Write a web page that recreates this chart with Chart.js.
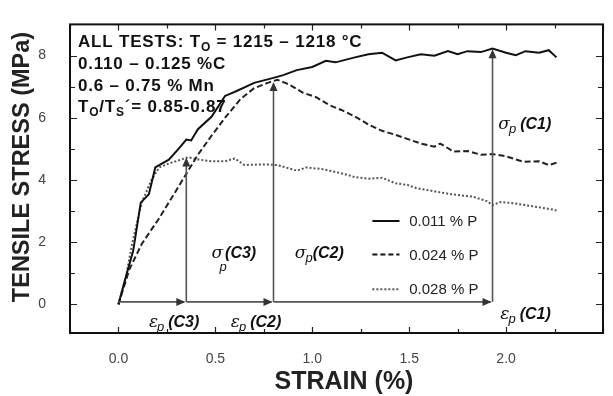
<!DOCTYPE html>
<html>
<head>
<meta charset="utf-8">
<script src="https://cdn.jsdelivr.net/npm/chart.js"></script>
<style>
  html, body { margin: 0; padding: 0; background: #fff; }
  #wrap { width: 613px; height: 396px; }
</style>
</head>
<body>
<div id="wrap"><canvas id="chart" width="613" height="396"></canvas></div>
<script>
// ====== DATA (strain %, stress MPa) ======
const seriesNames = ["0.011 % P", "0.024 % P", "0.028 % P"];

const p011Strain = [0, 0.03, 0.076, 0.115, 0.157, 0.19, 0.26, 0.31, 0.35, 0.375, 0.41, 0.48, 0.55, 0.61, 0.70, 0.80, 0.85, 0.92, 1.00, 1.07, 1.12, 1.22, 1.29, 1.36, 1.43, 1.49, 1.56, 1.63, 1.70, 1.75, 1.80, 1.87, 1.93, 2.00, 2.05, 2.10, 2.17, 2.22, 2.26];
const p011Stress = [0, 0.7, 1.72, 3.27, 3.54, 4.4, 4.65, 5.0, 5.3, 5.27, 5.63, 6.03, 6.7, 6.86, 7.12, 7.28, 7.37, 7.53, 7.63, 7.83, 7.78, 7.94, 8.04, 8.09, 7.84, 7.94, 8.04, 7.99, 8.14, 8.04, 8.14, 8.11, 8.22, 8.09, 8.01, 8.14, 8.09, 8.17, 7.94];

const p024Strain = [0, 0.056, 0.12, 0.21, 0.29, 0.36, 0.41, 0.48, 0.55, 0.63, 0.70, 0.77, 0.82, 0.86, 0.88, 0.95, 1.02, 1.09, 1.15, 1.22, 1.29, 1.36, 1.43, 1.49, 1.56, 1.63, 1.66, 1.73, 1.80, 1.87, 1.93, 2.00, 2.09, 2.17, 2.22, 2.26];
const p024Stress = [0, 1.12, 1.94, 2.77, 3.58, 4.3, 4.81, 5.42, 6.0, 6.6, 6.95, 7.12, 7.22, 7.12, 7.07, 6.81, 6.66, 6.4, 6.25, 6.04, 5.78, 5.58, 5.45, 5.32, 5.17, 5.07, 5.17, 4.91, 4.93, 4.81, 4.83, 4.76, 4.58, 4.6, 4.48, 4.55];

const p028Strain = [0, 0.04, 0.07, 0.12, 0.17, 0.21, 0.27, 0.36, 0.41, 0.48, 0.55, 0.60, 0.65, 0.75, 0.82, 0.92, 0.97, 1.05, 1.16, 1.22, 1.29, 1.36, 1.43, 1.49, 1.54, 1.59, 1.66, 1.73, 1.83, 1.90, 1.93, 1.97, 2.04, 2.10, 2.17, 2.24, 2.26];
const p028Stress = [0, 0.92, 1.94, 3.27, 4.0, 4.4, 4.55, 4.73, 4.66, 4.6, 4.6, 4.69, 4.48, 4.5, 4.48, 4.3, 4.4, 4.35, 4.2, 4.09, 4.04, 4.07, 3.89, 3.84, 3.73, 3.68, 3.6, 3.53, 3.46, 3.32, 3.19, 3.29, 3.25, 3.19, 3.12, 3.05, 3.02];

// tick labels
const strainLabels = [0.0, 0.5, 1.0, 1.5, 2.0];
const stressLabels = [0, 2, 4, 6, 8];

// peak markers (strain at peak, peak stress) for C3, C2, C1
const peakNames = ["C3", "C2", "C1"];
const peakStrain = [0.35, 0.80, 1.93];
const peakStress = [4.72, 7.15, 8.2];

// ====== BUILD POINTS ======
function zip(xs, ys) {
  return xs.map((x, i) => ({ x: x, y: ys[i] }));
}

const FONT = "'Liberation Sans', Arial, sans-serif";

// draw a list of text runs one after another (for subscripts)
function drawRuns(ctx, x, y, runs) {
  let cx = x;
  runs.forEach((r) => {
    ctx.font = r.font;
    ctx.fillText(r.t, cx, y + (r.dy || 0));
    cx += ctx.measureText(r.t).width + (r.dx || 0);
  });
}

function arrowHead(ctx, x, y, dir) {
  // dir: 'up' or 'right'
  const L = 9, W = 4;
  ctx.beginPath();
  if (dir === "up") {
    ctx.moveTo(x, y);
    ctx.lineTo(x - W, y + L);
    ctx.lineTo(x + W, y + L);
  } else {
    ctx.moveTo(x, y);
    ctx.lineTo(x - L, y - W);
    ctx.lineTo(x - L, y + W);
  }
  ctx.closePath();
  ctx.fill();
}

// ====== PLUGIN: frame, ticks, arrows, texts, legend ======
const decorPlugin = {
  id: "decor",
  afterDatasetsDraw(chart) {
    const ctx = chart.ctx;
    const xs = chart.scales.x;
    const ys = chart.scales.y;
    const a = chart.chartArea;
    ctx.save();

    // ---- inward ticks on all four sides
    ctx.strokeStyle = "#222";
    ctx.lineWidth = 1.2;
    for (let v = -0.25; v <= 2.5001; v += 0.25) {
      const px = Math.round(xs.getPixelForValue(v)) + 0.5;
      const len = Math.abs(v * 2 - Math.round(v * 2)) < 1e-6 ? 6 : 4;
      ctx.beginPath();
      ctx.moveTo(px, a.bottom); ctx.lineTo(px, a.bottom - len);
      ctx.moveTo(px, a.top); ctx.lineTo(px, a.top + len);
      ctx.stroke();
    }
    for (let v = 0; v <= 8; v += 1) {
      const py = Math.round(ys.getPixelForValue(v)) + 0.5;
      const len = v % 2 === 0 ? 7 : 5;
      ctx.beginPath();
      ctx.moveTo(a.left, py); ctx.lineTo(a.left + len, py);
      ctx.moveTo(a.right, py); ctx.lineTo(a.right - len, py);
      ctx.stroke();
    }

    // ---- frame
    ctx.strokeStyle = "#111";
    ctx.lineWidth = 2;
    ctx.strokeRect(a.left, a.top, a.right - a.left, a.bottom - a.top);

    // ---- arrows (sigma_p / epsilon_p)
    ctx.strokeStyle = "#555";
    ctx.fillStyle = "#333";
    ctx.lineWidth = 1.6;
    const baseY = ys.getPixelForValue(0.08);
    let prevX = xs.getPixelForValue(0);
    peakStrain.forEach((s, i) => {
      const px = xs.getPixelForValue(s);
      ctx.beginPath();
      ctx.moveTo(prevX, baseY); ctx.lineTo(px - 2, baseY);
      ctx.stroke();
      arrowHead(ctx, px - 1, baseY, "right");
      const topY = ys.getPixelForValue(peakStress[i]);
      ctx.beginPath();
      ctx.moveTo(px, baseY); ctx.lineTo(px, topY + 4);
      ctx.stroke();
      arrowHead(ctx, px, topY, "up");
      prevX = px;
    });

    // ---- sigma / epsilon labels
    ctx.fillStyle = "#111";
    ctx.textBaseline = "alphabetic";
    ctx.textAlign = "left";
    const gk = "italic 17px 'DejaVu Serif', serif";
    const sub = "italic 13px " + FONT;
    const lab = "italic bold 16px " + FONT;
    // sigma labels: [x, y] in data units
    const sigPos = [[0.48, 1.48], [0.91, 1.48], [1.96, 5.63]];
    sigPos.forEach((p, i) => {
      const x = xs.getPixelForValue(p[0]);
      const y = ys.getPixelForValue(p[1]);
      if (i === 0) {
        drawRuns(ctx, x, y, [
          { t: "\u03C3", font: gk, dx: 2 },
          { t: "(" + peakNames[i] + ")", font: lab }
        ]);
        ctx.font = sub;
        ctx.fillText("p", x + 8, y + 13);
      } else {
        drawRuns(ctx, x, y, [
          { t: "\u03C3", font: gk, dx: -1 },
          { t: "p", font: sub, dy: 4, dx: i === 2 ? 4 : 0 },
          { t: "(" + peakNames[i] + ")", font: lab }
        ]);
      }
    });
    const epsPos = [[0.157, -0.74], [0.58, -0.74], [1.97, -0.46]];
    epsPos.forEach((p, i) => {
      const x = xs.getPixelForValue(p[0]);
      const y = ys.getPixelForValue(p[1]);
      drawRuns(ctx, x, y, [
        { t: "\u03B5", font: gk, dx: -1 },
        { t: "p", font: sub, dy: 4, dx: 4 },
        { t: "(" + peakNames[i] + ")", font: lab }
      ]);
    });

    // ---- legend
    const styles = [[], [5, 3], [2, 2]];
    const legY = [2.68, 1.6, 0.49];
    ctx.font = "15px " + FONT;
    legY.forEach((v, i) => {
      const y = ys.getPixelForValue(v);
      ctx.strokeStyle = i === 2 ? "#555" : "#111";
      ctx.lineWidth = 2;
      ctx.setLineDash(styles[i]);
      ctx.beginPath();
      ctx.moveTo(xs.getPixelForValue(1.31), y);
      ctx.lineTo(xs.getPixelForValue(1.45), y);
      ctx.stroke();
      ctx.setLineDash([]);
      ctx.fillStyle = "#222";
      ctx.textBaseline = "middle";
      ctx.fillText(seriesNames[i], xs.getPixelForValue(1.50), y + 1);
    });

    // ---- conditions block (top-left)
    ctx.textBaseline = "alphabetic";
    ctx.fillStyle = "#111";
    ctx.letterSpacing = "0.8px";
    const b = "bold 17px " + FONT;
    const bs = "bold 12px " + FONT;
    const tx = a.left + 8;
    drawRuns(ctx, tx, a.top + 23, [
      { t: "ALL TESTS: T", font: b },
      { t: "O", font: bs, dy: 4 },
      { t: " = 1215 \u2013 1218 \u00B0C", font: b }
    ]);
    drawRuns(ctx, tx, a.top + 45, [{ t: "0.110 \u2013 0.125 %C", font: b }]);
    drawRuns(ctx, tx, a.top + 67, [{ t: "0.6 \u2013 0.75 % Mn", font: b }]);
    drawRuns(ctx, tx, a.top + 88, [
      { t: "T", font: b },
      { t: "O", font: bs, dy: 4 },
      { t: "/T", font: b },
      { t: "S", font: bs, dy: 4 },
      { t: "\u00B4= 0.85-0.87", font: b }
    ]);
    ctx.letterSpacing = "0px";

    // ---- axis titles
    ctx.fillStyle = "#222";
    ctx.font = "bold 25px " + FONT;
    ctx.textAlign = "center";
    ctx.textBaseline = "middle";
    ctx.fillText("STRAIN (%)", 344, 382);
    ctx.font = "bold 23.5px " + FONT;
    ctx.translate(23, 167);
    ctx.rotate(-Math.PI / 2);
    ctx.fillText("TENSILE STRESS (MPa)", 0, 0);

    ctx.restore();
  }
};

// ====== CHART ======
new Chart(document.getElementById("chart").getContext("2d"), {
  type: "line",
  data: {
    datasets: [
      {
        label: seriesNames[0],
        data: zip(p011Strain, p011Stress),
        borderColor: "#111",
        borderWidth: 2,
        pointRadius: 0,
        tension: 0
      },
      {
        label: seriesNames[1],
        data: zip(p024Strain, p024Stress),
        borderColor: "#222",
        borderWidth: 2,
        borderDash: [6, 3],
        pointRadius: 0,
        tension: 0
      },
      {
        label: seriesNames[2],
        data: zip(p028Strain, p028Stress),
        borderColor: "#555",
        borderWidth: 2,
        borderDash: [2, 2],
        pointRadius: 0,
        tension: 0
      }
    ]
  },
  options: {
    responsive: false,
    animation: false,
    devicePixelRatio: 1,
    layout: { padding: { top: 10, right: 1, left: 0, bottom: 0 } },
    plugins: { legend: { display: false }, tooltip: { enabled: false } },
    scales: {
      x: {
        type: "linear",
        min: -0.25,
        max: 2.5,
        grid: { display: false },
        border: { display: false },
        afterFit: (scale) => { scale.height = 63; },
        ticks: {
          stepSize: 0.25,
          padding: 10,
          maxRotation: 0,
          autoSkip: false,
          color: "#444",
          font: { family: FONT, size: 14 },
          callback: (v) => {
            const hit = strainLabels.find((s) => Math.abs(s - v) < 1e-6);
            return hit === undefined ? "" : hit.toFixed(1);
          }
        }
      },
      y: {
        type: "linear",
        min: -0.92,
        max: 9.0,
        grid: { display: false },
        border: { display: false },
        afterFit: (scale) => { scale.width = 70; },
        ticks: {
          stepSize: 1,
          includeBounds: false,
          padding: 16,
          autoSkip: false,
          color: "#444",
          font: { family: FONT, size: 14 },
          callback: (v) => (stressLabels.includes(v) ? String(v) : "")
        }
      }
    }
  },
  plugins: [decorPlugin]
});
</script>
</body>
</html>
